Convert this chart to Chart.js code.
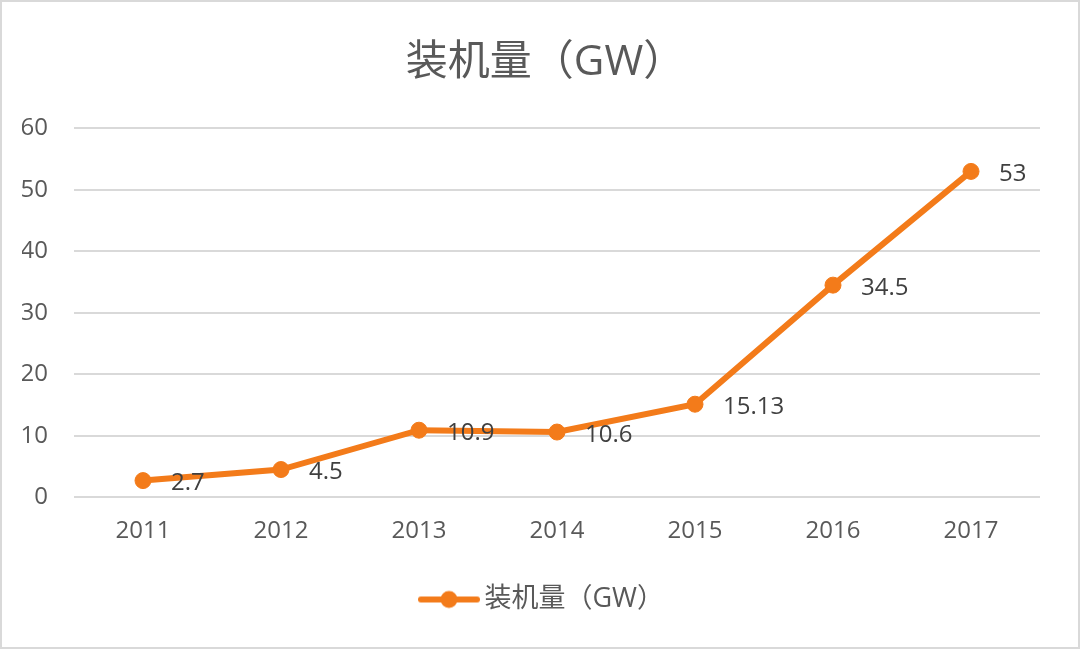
<!DOCTYPE html>
<html>
<head>
<meta charset="utf-8">
<script src="https://cdn.jsdelivr.net/npm/chart.js@4"></script>
<style>
  html, body { margin: 0; padding: 0; background: #fff; }
  #wrap { width: 1076px; height: 645px; border: 2px solid #d9d9d9; position: relative; }
</style>
</head>
<body>
<div id="wrap"><canvas id="chart"></canvas></div>
<script>
const years = ['2011', '2012', '2013', '2014', '2015', '2016', '2017'];
const capacity = [2.7, 4.5, 10.9, 10.6, 15.13, 34.5, 53];
const labelText = ['2.7', '4.5', '10.9', '10.6', '15.13', '34.5', '53'];
const seriesName = '装机量（GW）';

const orange = '#F37B1A';
const font = "'Open Sans', 'Noto Sans CJK SC', sans-serif";

// legend marker: line with a dot in the middle
const marker = document.createElement('canvas');
marker.width = 62; marker.height = 20;
(function () {
    const m = marker.getContext('2d');
    m.strokeStyle = orange; m.lineWidth = 6; m.lineCap = 'round';
    m.beginPath(); m.moveTo(3, 10); m.lineTo(59, 10); m.stroke();
    m.fillStyle = orange;
    m.beginPath(); m.arc(31, 10, 8.5, 0, Math.PI * 2); m.fill();
})();

// values next to each point
const valueLabels = {
    id: 'valueLabels',
    afterDatasetsDraw(chart) {
        const ctx = chart.ctx;
        const meta = chart.getDatasetMeta(0);
        ctx.save();
        ctx.font = '24px ' + font;
        ctx.fillStyle = '#404040';
        ctx.textAlign = 'left';
        ctx.textBaseline = 'middle';
        meta.data.forEach((pt, i) => {
            ctx.fillText(labelText[i], pt.x + 28, pt.y + 3);
        });
        ctx.restore();
    }
};

const ctx = document.getElementById('chart').getContext('2d');
const chart = new Chart(ctx, {
    type: 'line',
    data: {
        labels: years,
        datasets: [{
            label: seriesName,
            data: capacity,
            borderColor: orange,
            backgroundColor: orange,
            borderWidth: 6,
            pointRadius: 8,
            pointBorderWidth: 1,
            pointBackgroundColor: orange,
            pointBorderColor: orange,
            tension: 0
        }]
    },
    options: {
        responsive: true,
        maintainAspectRatio: false,
        animation: false,
        layout: { padding: { left: 20, right: 9, top: 20, bottom: 24 } },
        plugins: {
            tooltip: { enabled: false },
            title: {
                display: true,
                text: seriesName,
                color: '#595959',
                font: { family: font, size: 42, weight: 'normal' },
                padding: { top: 16, bottom: 40 }
            },
            legend: {
                position: 'bottom',
                labels: {
                    usePointStyle: true,
                    pointStyle: marker,
                    pointStyleWidth: 44,
                    color: '#595959',
                    font: { family: font, size: 27 },
                    padding: 20
                }
            }
        },
        scales: {
            x: {
                offset: true,
                grid: { display: false, drawTicks: false },
                border: { display: false },
                ticks: { color: '#595959', font: { family: font, size: 24 }, padding: 20 }
            },
            y: {
                min: 0, max: 60,
                afterFit(scale) { scale.width = 52; },
                grid: { color: '#d9d9d9', lineWidth: 2, drawTicks: false },
                border: { display: false },
                ticks: { stepSize: 10, color: '#595959', font: { family: font, size: 24 }, padding: 26 }
            },
            // empty right-hand axis, only keeps space at the right of the plot
            yRight: {
                position: 'right',
                min: 0, max: 60,
                afterFit(scale) { scale.width = 29; },
                grid: { display: false, drawTicks: false },
                border: { display: false },
                ticks: { display: false }
            }
        }
    },
    plugins: [valueLabels]
});
</script>
</body>
</html>
